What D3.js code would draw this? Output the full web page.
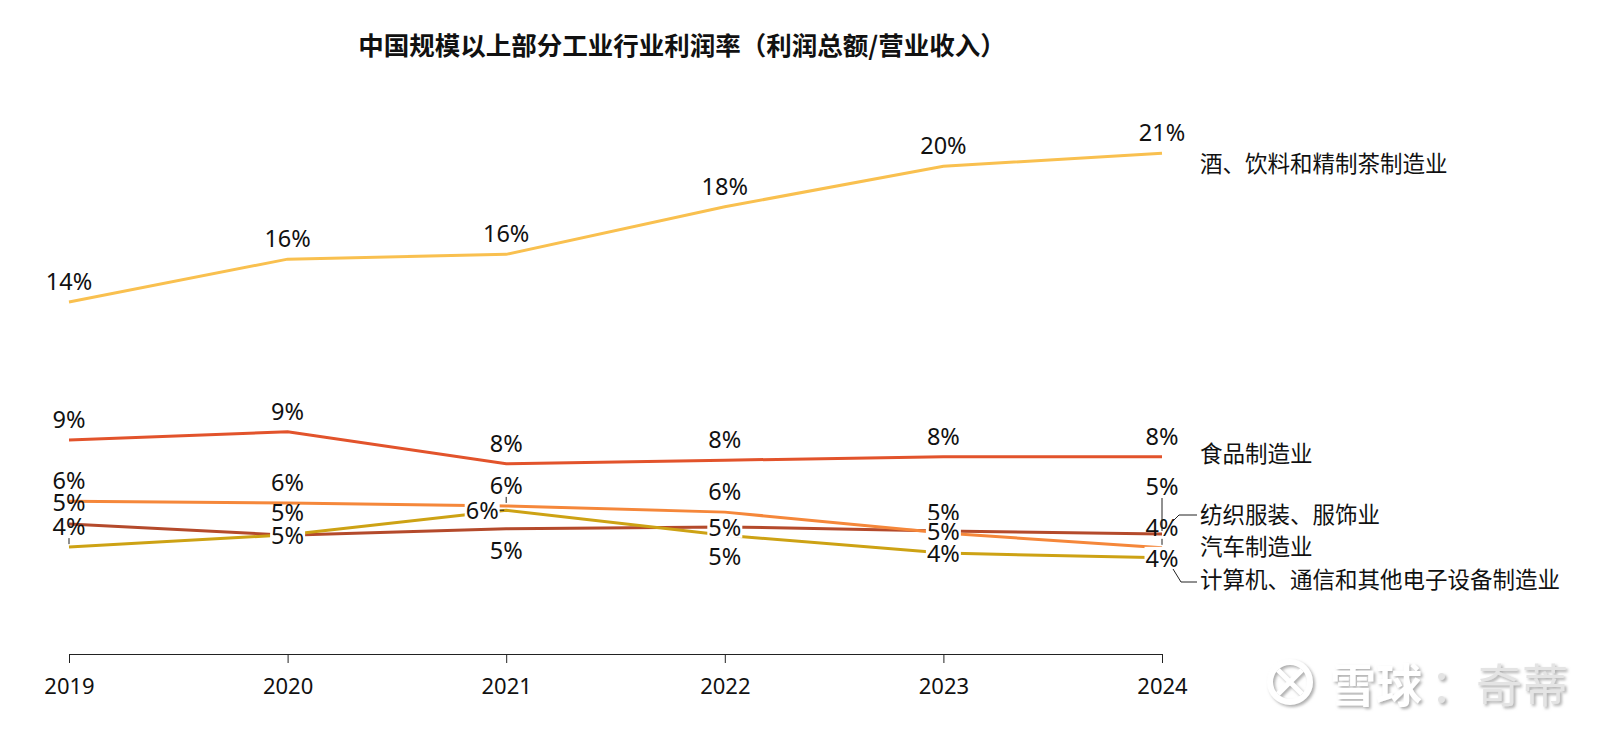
<!DOCTYPE html>
<meta charset="utf-8">
<head>
  <title>利润率</title>
</head>

<style>
body { margin: 0; background: #fff; }
text {
  font-family: "Noto Sans", "Noto Sans CJK SC", sans-serif;
  fill: #111;
}
.cjk { font-family: "Noto Sans CJK SC", sans-serif; }
.line { fill: none; stroke-width: 3; }
.lead { stroke: #222; stroke-width: 1; fill: none; }
</style>

<body>
  <svg width="1620" height="735"></svg>

  <script src="https://cdnjs.cloudflare.com/ajax/libs/d3/7.8.5/d3.min.js"></script>
  <script>
// data (profit margin, %)
var years = ['2019', '2020', '2021', '2022', '2023', '2024'];
var seriesNames = ['酒、饮料和精制茶制造业', '食品制造业', '汽车制造业', '纺织服装、服饰业', '计算机、通信和其他电子设备制造业'];
var beverage = [14.35, 16.15, 16.35, 18.35, 20.05, 20.6];
var food     = [8.55, 8.9, 7.55, 7.7, 7.85, 7.85];
var auto     = [5.98, 5.9, 5.78, 5.52, 4.64, 4.02];
var textile  = [5.02, 4.55, 4.82, 4.9, 4.73, 4.6];
var computer = [4.05, 4.57, 5.6, 4.55, 3.8, 3.6];

var seriesValues = [beverage, food, auto, textile, computer];
var colors = ['#f9c04f', '#e2532b', '#f5873a', '#b44a2b', '#cda214'];

// label placement per series/year: [dx, dy, background, leader]
var A = [0, -21, false, false];
var labelPlace = [
  [A, A, A, A, A, A],
  [A, A, A, A, A, A],
  [A, A, [0, -21, false, true], A, A, [0, -21, false, true]],
  [[0, -22, false, false], [0, -23, false, false], [0, 21, false, false], [0, 0, true, false], [0, 0, true, false], [0, -48, false, true]],
  [[0, -21, false, true], [0, 0, true, false], [-24, 0, true, true], [0, 21, false, false], [0, 0, true, false], [0, 0, true, false]]
];

// right-hand series labels: y position
var nameY = [162, 452, 545, 513, 578];

var svg = d3.select('svg');

var x = d3.scalePoint().domain(years).range([69, 1162]);
var y = d3.scaleLinear().domain([0, 20]).range([643.5, 167.5]);

// title
svg.append('text')
  .attr('class', 'cjk')
  .attr('x', 682)
  .attr('y', 43)
  .attr('text-anchor', 'middle')
  .attr('dominant-baseline', 'central')
  .style('font-size', '25.5px')
  .style('font-weight', 'bold')
  .text('中国规模以上部分工业行业利润率（利润总额/营业收入）');

// axis
var axis = svg.append('g')
  .attr('transform', 'translate(0,654)')
  .call(d3.axisBottom(x).tickSize(9).tickSizeOuter(0).tickPadding(15));
axis.select('.domain').attr('stroke', '#222');
axis.selectAll('.tick line').attr('stroke', '#222');
axis.selectAll('.tick text')
  .style('font-size', '22px')
  .style('font-family', '"Noto Sans", sans-serif')
  .attr('fill', '#111');

// lines
var line = d3.line()
  .x(function(d, i) { return x(years[i]); })
  .y(function(d) { return y(d); });

var order = [0, 1, 3, 2, 4];
order.forEach(function(s) {
  svg.append('path')
    .datum(seriesValues[s])
    .attr('class', 'line')
    .attr('stroke', colors[s])
    .attr('d', line);
});

// value labels
var labels = svg.append('g');
seriesValues.forEach(function(vals, s) {
  vals.forEach(function(v, i) {
    var p = labelPlace[s][i];
    var px = x(years[i]), py = y(v);
    var lx = px + p[0], ly = py + p[1];
    var g = labels.append('g');
    var t = g.append('text')
      .attr('x', lx)
      .attr('y', ly)
      .attr('text-anchor', 'middle')
      .attr('dominant-baseline', 'central')
      .style('font-size', '23.5px')
      .text(Math.round(v) + '%');
    var bb = t.node().getBBox();
    if (p[2]) {
      g.insert('rect', 'text')
        .attr('x', bb.x - 1)
        .attr('y', ly - 11)
        .attr('width', bb.width + 2)
        .attr('height', 22)
        .attr('fill', '#fff');
    }
    if (p[3]) {
      if (p[0] !== 0) {
        g.append('line').attr('class', 'lead')
          .attr('x1', lx + bb.width / 2 + 1).attr('y1', ly)
          .attr('x2', px - 2).attr('y2', py);
      } else {
        g.append('line').attr('class', 'lead')
          .attr('x1', lx).attr('y1', ly + 12)
          .attr('x2', px).attr('y2', py - 3);
      }
    }
  });
});

// series names on the right
seriesNames.forEach(function(n, s) {
  svg.append('text')
    .attr('class', 'cjk')
    .attr('x', 1200)
    .attr('y', nameY[s])
    .attr('dominant-baseline', 'central')
    .style('font-size', '22.5px')
    .text(n);
});
svg.append('path').attr('class', 'lead')
  .attr('d', 'M1173,521L1179,515L1197,515');
svg.append('path').attr('class', 'lead')
  .attr('d', 'M1173,569L1181,582L1197,582');

// watermark
var defs = svg.append('defs');
var f = defs.append('filter').attr('id', 'sh')
  .attr('x', '-20%').attr('y', '-20%').attr('width', '140%').attr('height', '140%');
f.append('feDropShadow').attr('dx', 2).attr('dy', 2).attr('stdDeviation', 1.5)
  .attr('flood-color', '#999').attr('flood-opacity', 0.8);

var wm = svg.append('g').attr('filter', 'url(#sh)');
wm.append('circle').attr('cx', 1290).attr('cy', 682).attr('r', 20)
  .attr('fill', 'none').attr('stroke', '#fff').attr('stroke-width', 6);
wm.append('path').attr('d', 'M1278,670L1302,694M1302,670L1278,694')
  .attr('stroke', '#fff').attr('stroke-width', 5);
wm.append('text')
  .attr('class', 'cjk')
  .attr('x', 1330)
  .attr('y', 682)
  .attr('dominant-baseline', 'central')
  .style('font-size', '46px')
  .style('font-weight', 'bold')
  .style('fill', '#fff')
  .text('雪球');
wm.append('text')
  .attr('class', 'cjk')
  .attr('x', 1430)
  .attr('y', 682)
  .attr('dominant-baseline', 'central')
  .style('font-size', '46px')
  .style('fill', '#e4e4e4')
  .text('：奇蒂');
  </script>
</body>
</html>
